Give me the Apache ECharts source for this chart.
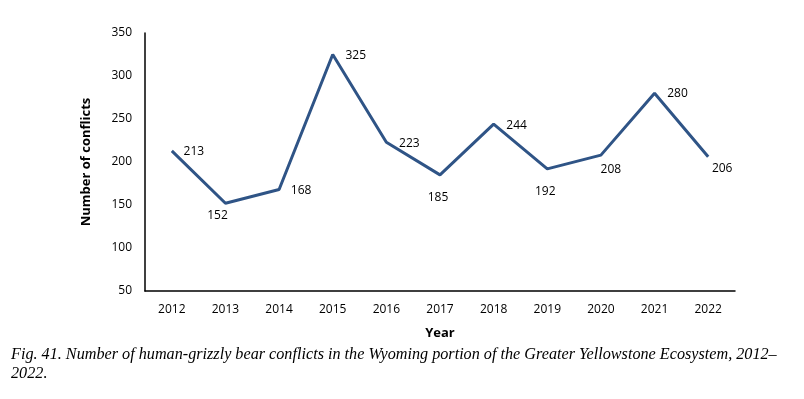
<!DOCTYPE html>
<html><head><meta charset="utf-8">
<script src="https://cdn.jsdelivr.net/npm/echarts@6/dist/echarts.min.js"></script>
<style>html,body{margin:0;padding:0;background:#fff}#c{width:804px;height:399px}</style>
</head><body><div id="c"></div>
<script>
const years = ['2012','2013','2014','2015','2016','2017','2018','2019','2020','2021','2022'];
const conflicts = [213,152,168,325,223,185,244,192,208,280,206];
const yTicks = [50,100,150,200,250,300,350];
// label placement (style only)
const labelOffsets = [[22,1],[-8,12],[22,1],[23,1],[23,1],[-2,23],[23,1],[-2,23],[10,14],[23,0],[14,12]];

const chart = echarts.init(document.getElementById('c'), null, {renderer:'canvas'});
const font = 'Open Sans, Liberation Sans, sans-serif';
chart.setOption({
  animation:false,
  backgroundColor:'#fff',
  title:{
    text:'Fig. 41. Number of human-grizzly bear conflicts in the Wyoming portion of the Greater Yellowstone Ecosystem, 2012–\n2022.',
    left:6, top:340,
    textStyle:{fontFamily:'Liberation Serif, serif', fontStyle:'italic', fontWeight:'normal', fontSize:16.2, lineHeight:19, color:'#000'}
  },
  grid:{left:145, right:69, top:33, bottom:108, containLabel:false},
  xAxis:{
    type:'category', data:years, boundaryGap:true,
    axisLine:{lineStyle:{color:'#000', width:1.5}},
    axisTick:{show:false},
    axisLabel:{color:'#000', fontFamily:font, fontSize:12, margin:13},
    name:'Year', nameLocation:'middle', nameGap:36,
    nameTextStyle:{color:'#000', fontFamily:font, fontWeight:'bold', fontSize:13}
  },
  yAxis:{
    type:'value', min:50, max:350, interval:50,
    axisLine:{show:true, lineStyle:{color:'#000', width:1.5}},
    axisTick:{show:false},
    splitLine:{show:false},
    axisLabel:{color:'#000', fontFamily:font, fontSize:12, margin:13,
      formatter:v=>yTicks.includes(v)?String(v):''},
    name:'Number of conflicts', nameLocation:'middle', nameGap:52, nameRotate:90,
    nameTextStyle:{color:'#000', fontFamily:font, fontWeight:'bold', fontSize:13}
  },
  series:[{
    type:'line', data:conflicts,
    symbol:'circle', symbolSize:0.1, showSymbol:true, showAllSymbol:true,
    itemStyle:{color:'#2F5486'},
    lineStyle:{color:'#2F5486', width:3},
    labelLayout:function(p){
      const o = labelOffsets[p.dataIndex];
      return {dx:o[0], dy:o[1], hideOverlap:false};
    },
    label:{show:true, position:'inside', color:'#000', fontFamily:font, fontSize:12}
  }]
});
</script></body></html>
